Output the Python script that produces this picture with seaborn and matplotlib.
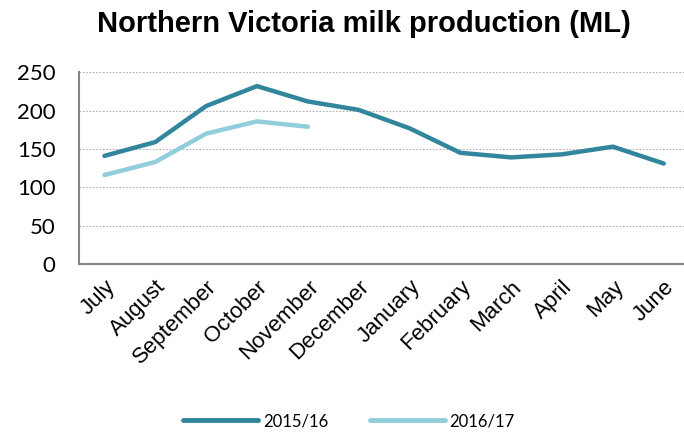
import pandas as pd
import seaborn as sns
import matplotlib.pyplot as plt
import numpy as np

months = ['July', 'August', 'September', 'October', 'November', 'December',
          'January', 'February', 'March', 'April', 'May', 'June']
prod_1516 = [141, 159, 206, 232, 212, 201, 177, 145, 139, 143, 153, 131]
prod_1617 = [116, 133, 170, 186, 179]
seasons = ['2015/16', '2016/17']
colors = ['#31859C', '#92CDDC']

# long form table
rows = []
for i, m in enumerate(months):
    rows.append({'month': m, 'pos': i, 'season': seasons[0], 'ML': prod_1516[i]})
for i, v in enumerate(prod_1617):
    rows.append({'month': months[i], 'pos': i, 'season': seasons[1], 'ML': v})
milk = pd.DataFrame(rows)

sns.set_style('white')
plt.rcParams['font.family'] = ['Liberation Sans', 'DejaVu Sans']
plt.rcParams['text.color'] = 'black'
plt.rcParams['xtick.color'] = 'black'
plt.rcParams['ytick.color'] = 'black'

fig = plt.figure(figsize=(6.84, 4.32), dpi=100)
ax = fig.add_axes([0.1155, 0.389, 0.892, 0.4436])

sns.lineplot(data=milk, x='pos', y='ML', hue='season', palette=colors,
             linewidth=3.2, ax=ax, legend=False)

ax.set_xlim(-0.5, 11.5)
ax.set_ylim(0, 250)
ax.set_yticks(np.arange(0, 251, 50))
ax.set_xticks(range(len(months)))
ax.set_xticklabels(months, rotation=45, ha='right', rotation_mode='anchor', fontsize=16)
ax.set_xticks(np.arange(-0.5, 12, 1), minor=True)
ax.tick_params(axis='x', which='major', length=0, pad=9, labelcolor='black')
ax.tick_params(axis='x', which='minor', length=5, color='#868686', direction='out', width=1.2)
ax.tick_params(axis='y', length=5, color='#868686', direction='out', width=1.2,
               labelsize=16, pad=12, labelcolor='black')
for lab in ax.get_yticklabels():
    lab.set_family(['Lato', 'DejaVu Sans'])
ax.yaxis.grid(True, linestyle=(0, (1.5, 1.5)), color='#b0b0b0', linewidth=0.8)
ax.xaxis.grid(False)
for s in ['top', 'right']:
    ax.spines[s].set_visible(False)
for s in ['left', 'bottom']:
    ax.spines[s].set_color('#868686')
    ax.spines[s].set_linewidth(1.5)
ax.set_xlabel('')
ax.set_ylabel('')

fig.suptitle('Northern Victoria milk production (ML)', fontsize=21, fontweight='bold',
             x=0.532, y=0.978, color='black')

handles = [plt.Line2D([], [], color=c, linewidth=3.5) for c in colors]
fig.legend(handles, seasons, loc='center', bbox_to_anchor=(0.51, 0.025), ncol=2,
           frameon=False, handlelength=4.5, columnspacing=2.5, handletextpad=0.3,
           prop={'family': 'Lato', 'size': 12})

fig.savefig('out.png', dpi=100)
